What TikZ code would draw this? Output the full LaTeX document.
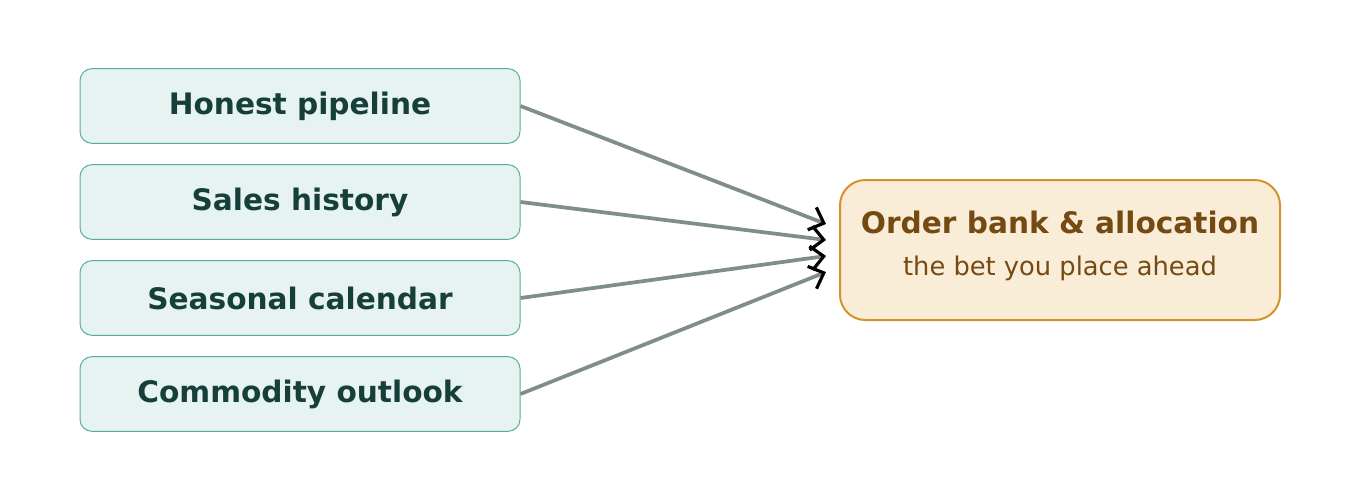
\documentclass[tikz,border=0pt]{standalone}
\usepackage{fontspec}
\setmainfont{DejaVu Sans}
\usetikzlibrary{arrows.meta}

\definecolor{srcfill}{HTML}{E6F3F0}
\definecolor{srcdraw}{HTML}{5AAB9F}
\definecolor{srctext}{HTML}{173F3A}
\definecolor{bankfill}{HTML}{FAEDD8}
\definecolor{bankdraw}{HTML}{D4922A}
\definecolor{banktext}{HTML}{744A12}
\definecolor{feedline}{HTML}{7F8F88}

\tikzset{
	srcbox/.style={draw=srcdraw, fill=srcfill, line width=0.75pt, rounded corners=9pt,
		minimum width=330pt, minimum height=56pt, text=srctext,
		font=\fontsize{22.2}{26}\selectfont\bfseries},
	bankbox/.style={draw=bankdraw, fill=bankfill, line width=1.5pt, rounded corners=19pt,
		minimum width=330pt, minimum height=105pt, text=banktext, align=center},
	feed/.style={draw=feedline, line width=2.8pt,
		-{Straight Barb[color=black, length=9.5pt, width=18pt, line width=2.4pt]}}
}

\begin{document}
\begin{tikzpicture}[x=0.75pt, y=-0.75pt]
				\useasboundingbox (0, 0) rectangle (1360, 500);
				
				% sources on the left
				\foreach \name/\txt/\y in {pipe/Honest pipeline/106, hist/Sales history/202,
					season/Seasonal calendar/298, commod/Commodity outlook/394}
				\node[srcbox] (\name) at (300, \y) {\txt};
				
				% the order bank
				\node[bankbox] (bank) at (1060, 250)
					{{\fontsize{22.2}{26}\selectfont\bfseries Order bank \& allocation}\\[15pt]
					{\fontsize{19.3}{23}\selectfont the bet you place ahead}\\[-2pt]};
				
				% where the arrows land
				\foreach \name/\y in {pipe/224, hist/240, season/256, commod/272}
				\coordinate (\name-in) at (826, \y);
				
				\foreach \name in {pipe, hist, season, commod}
				\draw[feed] (\name.east) -- (\name-in);
			\end{tikzpicture}
\end{document}
